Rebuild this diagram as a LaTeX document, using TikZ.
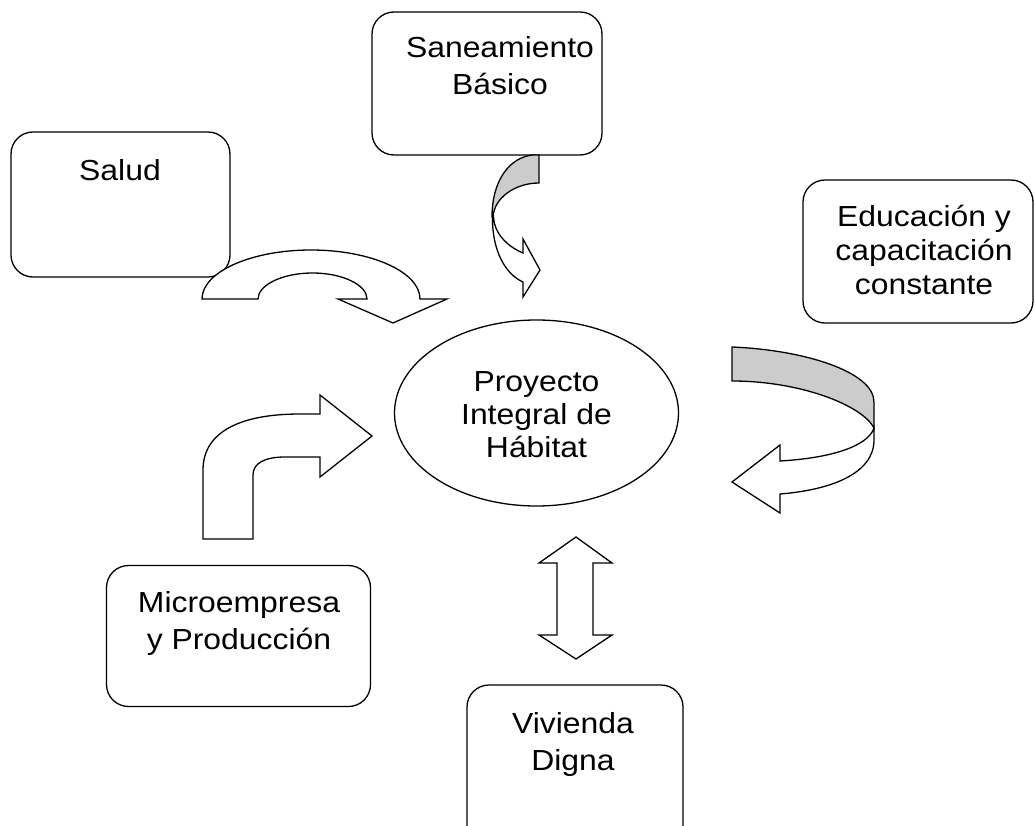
\documentclass[tikz,border=0pt]{standalone}
\usepackage{fontspec}
\setmainfont{Liberation Sans}[FakeStretch=1.1]
\usetikzlibrary{shapes.geometric}
\begin{document}
\begin{tikzpicture}[x=1pt,y=-1pt,
  box/.style={draw, line width=1.3pt, rounded corners=22pt, inner sep=0pt, fill=white},
  lbl/.style={inner sep=0pt, align=center, anchor=base, font=\fontsize{29}{37}\selectfont},
  shp/.style={draw, line width=1.3pt, line join=miter, fill=white},
  gry/.style={draw, line width=1.3pt, line join=miter, fill=black!20}]
\useasboundingbox (0,0) rectangle (1035,826);
\clip (0,0) rectangle (1035,826);
% boxes
\node[box, minimum width=219pt, minimum height=145pt] (salud) at (120.5,204.5) {};
\node[lbl] (tsalud) at (120,180.5) {Salud};
\node[box, minimum width=230pt, minimum height=143pt] (san) at (487,83.5) {};
\node[lbl] (tsan) at (500,95) {Saneamiento\\Básico};
\node[box, minimum width=230pt, minimum height=143pt] (edu) at (918,251.5) {};
\node[lbl, font=\fontsize{29}{33.5}\selectfont] (tedu) at (924,294) {Educación y\\capacitación\\constante};
\node[draw, ellipse, line width=1.3pt, minimum width=284pt, minimum height=186pt, inner sep=0pt] (hab) at (536.5,413) {};
\node[lbl, font=\fontsize{29}{33}\selectfont] (thab) at (536.5,457) {Proyecto\\Integral de\\Hábitat};
\node[box, minimum width=264pt, minimum height=141pt] (micro) at (238.5,636) {};
\node[lbl] (tmicro) at (239,649) {Microempresa\\y Producción};
\node[box, minimum width=216pt, minimum height=180pt] (viv) at (575,775) {};
\node[lbl] (tviv) at (573,770) {Vivienda\\Digna};
% Salud arrow
\draw[shp] (202,299) .. controls (202,272) and (251,250) .. (311,250)
  .. controls (371,250) and (420,272) .. (420,299)
  -- (447,299) -- (393,323) -- (338,299) -- (367,299)
  .. controls (367,285) and (342.6,273) .. (312.5,273)
  .. controls (282.4,273) and (258,285) .. (258,299) -- cycle;
% Saneamiento arrow
\draw[shp] (492.5,217) .. controls (492,250) and (505,274) .. (523,282)
  -- (523,297) -- (540,270) -- (523,239) -- (523,253)
  .. controls (506,246) and (494,232) .. (493.5,217) -- cycle;
\draw[gry] (539,155) -- (539,183) .. controls (515,183) and (494,198) .. (493,217)
  -- (492,217) .. controls (492,180) and (510,157) .. (533,155) -- cycle;
% Educacion arrow
\draw[shp] (874,428) -- (874,440) .. controls (874,474) and (830,490) .. (780,494)
  -- (780,513) -- (732,482) -- (780,445) -- (780,461)
  .. controls (832,458) and (868,446) .. (874,428) -- cycle;
\draw[gry] (732,347) .. controls (805,350) and (874,372) .. (874,402) -- (874,428)
  .. controls (862,405) and (800,381) .. (732,381) -- cycle;
% Microempresa arrow
\draw[shp] (203,539) -- (203,470) .. controls (203,432) and (240,414) .. (300,414)
  -- (320,414) -- (320,395) -- (372,436) -- (320,477) -- (320,457) -- (285,457)
  .. controls (265,457) and (253,463) .. (253,475) -- (253,539) -- cycle;
% Vivienda double arrow
\draw[shp] (576,537) -- (612,563) -- (593,563) -- (593,635) -- (612,635) -- (576,659)
  -- (539,635) -- (557,635) -- (557,563) -- (539,563) -- cycle;
\end{tikzpicture}
\end{document}
